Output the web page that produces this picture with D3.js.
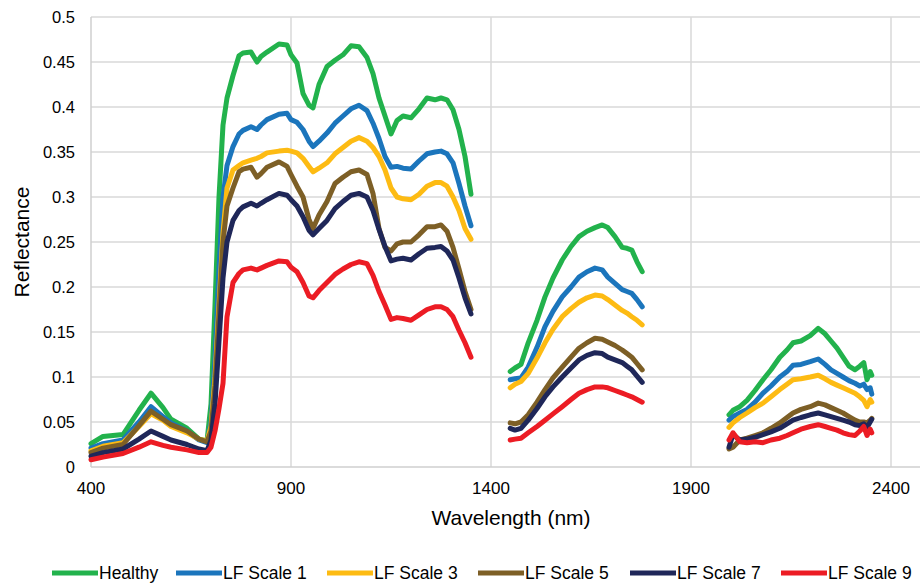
<!DOCTYPE html>
<html>
<head>
<meta charset="utf-8">
<script src="https://cdn.jsdelivr.net/npm/d3@7"></script>
<style>
  body { margin: 0; background: #fff; }
  text { font-family: "Liberation Sans", Arial, sans-serif; fill: #000; }
</style>
</head>
<body>
<div id="container"></div>
<script>
var seriesNames = ['Healthy', 'LF Scale 1', 'LF Scale 3', 'LF Scale 5', 'LF Scale 7', 'LF Scale 9'];
var seriesColors = ['#22b24c', '#1b75bc', '#fdbb13', '#7d5f26', '#1f2759', '#ec1c24'];

var xTicks = [400, 900, 1400, 1900, 2400];
var yTicks = [0, 0.05, 0.1, 0.15, 0.2, 0.25, 0.3, 0.35, 0.4, 0.45, 0.5];
var yTickLabels = ['0', '0.05', '0.1', '0.15', '0.2', '0.25', '0.3', '0.35', '0.4', '0.45', '0.5'];

// segment 1: visible + NIR
var wl1 = [400, 430, 480, 520, 550, 580, 600, 640, 670, 690, 700, 710, 720, 730, 740, 755, 770, 780, 800, 815,
  825, 840, 870, 890, 900, 915, 930, 945, 955, 970, 990, 1010, 1030, 1050, 1070, 1090, 1105, 1120, 1135, 1150,
  1165, 1180, 1200, 1220, 1240, 1260, 1275, 1290, 1305, 1320, 1335, 1350];
var healthy1 = [0.026, 0.034, 0.036, 0.063, 0.082, 0.066, 0.053, 0.043, 0.031, 0.029, 0.07, 0.18, 0.3, 0.38, 0.41, 0.435, 0.457, 0.46, 0.461, 0.45,
  0.456, 0.461, 0.47, 0.469, 0.458, 0.449, 0.415, 0.402, 0.399, 0.425, 0.445, 0.452, 0.458, 0.468, 0.467, 0.455, 0.437, 0.41, 0.39, 0.37,
  0.385, 0.39, 0.388, 0.398, 0.41, 0.408, 0.41, 0.408, 0.397, 0.375, 0.345, 0.303];
var lf1_1 = [0.021, 0.026, 0.03, 0.05, 0.067, 0.056, 0.049, 0.04, 0.03, 0.027, 0.05, 0.12, 0.22, 0.3, 0.335, 0.356, 0.37, 0.374, 0.378, 0.375,
  0.38, 0.386, 0.392, 0.393, 0.386, 0.383, 0.375, 0.362, 0.356, 0.362, 0.371, 0.382, 0.39, 0.398, 0.402, 0.396, 0.382, 0.365, 0.345, 0.333,
  0.334, 0.332, 0.331, 0.34, 0.348, 0.35, 0.351, 0.348, 0.338, 0.315, 0.29, 0.268];
var lf3_1 = [0.018, 0.023, 0.027, 0.045, 0.059, 0.052, 0.045, 0.038, 0.031, 0.029, 0.045, 0.1, 0.18, 0.26, 0.31, 0.33, 0.335, 0.338, 0.341, 0.343,
  0.345, 0.349, 0.351, 0.352, 0.351, 0.349, 0.343, 0.334, 0.328, 0.332, 0.338, 0.348, 0.355, 0.362, 0.366, 0.362, 0.355, 0.345, 0.33, 0.31,
  0.3, 0.298, 0.297, 0.303, 0.312, 0.316, 0.316, 0.312, 0.3, 0.285, 0.265, 0.253];
var lf5_1 = [0.016, 0.021, 0.025, 0.046, 0.062, 0.053, 0.047, 0.04, 0.031, 0.028, 0.04, 0.09, 0.17, 0.25, 0.29, 0.31, 0.328, 0.331, 0.333, 0.322,
  0.326, 0.333, 0.339, 0.334, 0.325, 0.312, 0.3, 0.275, 0.265, 0.28, 0.295, 0.315, 0.322, 0.328, 0.33, 0.325, 0.304, 0.265, 0.244, 0.24,
  0.248, 0.25, 0.25, 0.258, 0.267, 0.267, 0.269, 0.262, 0.244, 0.22, 0.195, 0.175];
var lf7_1 = [0.012, 0.016, 0.02, 0.031, 0.04, 0.034, 0.03, 0.025, 0.02, 0.018, 0.03, 0.07, 0.14, 0.21, 0.25, 0.274, 0.285, 0.289, 0.293, 0.29,
  0.293, 0.297, 0.304, 0.302, 0.297, 0.29, 0.278, 0.263, 0.258, 0.265, 0.274, 0.287, 0.295, 0.302, 0.304, 0.3, 0.285, 0.264, 0.245, 0.229,
  0.231, 0.232, 0.23, 0.237, 0.243, 0.244, 0.245, 0.24, 0.23, 0.21, 0.188, 0.17];
var lf9_1 = [0.008, 0.011, 0.015, 0.022, 0.028, 0.024, 0.022, 0.019, 0.016, 0.016, 0.022, 0.04, 0.065, 0.093, 0.167, 0.205, 0.215, 0.219, 0.221, 0.219,
  0.221, 0.224, 0.229, 0.228, 0.222, 0.217, 0.205, 0.19, 0.188, 0.196, 0.205, 0.214, 0.22, 0.225, 0.228, 0.226, 0.213, 0.195, 0.18, 0.164,
  0.166, 0.165, 0.163, 0.169, 0.175, 0.178, 0.178, 0.175, 0.167, 0.152, 0.138, 0.122];

// segment 2
var wl2 = [1448, 1460, 1475, 1493, 1515, 1535, 1555, 1578, 1600, 1620, 1640, 1660, 1678, 1692, 1710, 1728, 1740, 1752, 1765, 1778];
var healthy2 = [0.106, 0.11, 0.114, 0.138, 0.163, 0.189, 0.21, 0.23, 0.245, 0.256, 0.262, 0.266, 0.269, 0.266, 0.256, 0.244, 0.243, 0.241, 0.228, 0.217];
var lf1_2 = [0.097, 0.098, 0.099, 0.111, 0.133, 0.156, 0.173, 0.189, 0.2, 0.211, 0.217, 0.221, 0.219, 0.211, 0.204, 0.197, 0.195, 0.193, 0.186, 0.178];
var lf3_2 = [0.088, 0.092, 0.095, 0.104, 0.121, 0.138, 0.153, 0.167, 0.176, 0.183, 0.188, 0.191, 0.19, 0.186, 0.18, 0.174, 0.171, 0.167, 0.163, 0.158];
var lf5_2 = [0.049, 0.048, 0.05, 0.058, 0.072, 0.086, 0.099, 0.111, 0.122, 0.132, 0.138, 0.143, 0.142, 0.139, 0.135, 0.13, 0.126, 0.122, 0.115, 0.108];
var lf7_2 = [0.043, 0.041, 0.043, 0.052, 0.065, 0.078, 0.089, 0.1, 0.11, 0.119, 0.124, 0.127, 0.126, 0.122, 0.119, 0.116, 0.112, 0.108, 0.101, 0.094];
var lf9_2 = [0.03, 0.031, 0.032, 0.038, 0.045, 0.052, 0.059, 0.067, 0.075, 0.082, 0.086, 0.089, 0.089, 0.088, 0.085, 0.082, 0.08, 0.078, 0.075, 0.072];

// segment 3
var wl3 = [1995, 2005, 2022, 2040, 2060, 2080, 2100, 2122, 2140, 2155, 2175, 2198, 2218, 2235, 2250, 2265, 2280, 2295, 2310, 2322, 2332, 2340, 2348, 2352];
var healthy3 = [0.058, 0.063, 0.067, 0.074, 0.085, 0.097, 0.108, 0.122, 0.13, 0.138, 0.14, 0.146, 0.154, 0.148, 0.14, 0.132, 0.122, 0.112, 0.108, 0.112, 0.116, 0.097, 0.106, 0.102];
var lf1_3 = [0.052, 0.056, 0.06, 0.064, 0.072, 0.082, 0.09, 0.1, 0.106, 0.113, 0.114, 0.117, 0.12, 0.114, 0.108, 0.104, 0.1, 0.096, 0.093, 0.09, 0.092, 0.086, 0.088, 0.081];
var lf3_3 = [0.044, 0.049, 0.055, 0.06, 0.066, 0.071, 0.078, 0.086, 0.092, 0.097, 0.098, 0.1, 0.102, 0.098, 0.094, 0.091, 0.088, 0.085, 0.082, 0.078, 0.074, 0.067, 0.075, 0.072];
var lf5_3 = [0.02, 0.022, 0.03, 0.032, 0.035, 0.038, 0.043, 0.049, 0.055, 0.06, 0.064, 0.067, 0.071, 0.069, 0.066, 0.063, 0.06, 0.056, 0.052, 0.05, 0.05, 0.049, 0.052, 0.054];
var lf7_3 = [0.022, 0.036, 0.03, 0.031, 0.033, 0.036, 0.039, 0.043, 0.048, 0.052, 0.055, 0.058, 0.06, 0.058, 0.056, 0.054, 0.052, 0.05, 0.047, 0.046, 0.048, 0.044, 0.05, 0.053];
var lf9_3 = [0.03, 0.038, 0.028, 0.027, 0.028, 0.027, 0.03, 0.032, 0.035, 0.038, 0.042, 0.045, 0.047, 0.045, 0.043, 0.041, 0.038, 0.036, 0.035, 0.04, 0.045, 0.035, 0.042, 0.038];

var seriesSegments = [
  [healthy1, healthy2, healthy3],
  [lf1_1, lf1_2, lf1_3],
  [lf3_1, lf3_2, lf3_3],
  [lf5_1, lf5_2, lf5_3],
  [lf7_1, lf7_2, lf7_3],
  [lf9_1, lf9_2, lf9_3]
];
var segmentWl = [wl1, wl2, wl3];

var width = 920;
var height = 584;
var margin = {left: 91, top: 17, right: -11, bottom: 117};

var svg = d3.select('#container')
  .append('svg')
  .attr('width', width)
  .attr('height', height);

var x = d3.scaleLinear().domain([400, 2500]).range([margin.left, width - margin.right]);
var y = d3.scaleLinear().domain([0, 0.5]).range([height - margin.bottom, margin.top]);

// gridlines
svg.append('g')
  .selectAll('line')
  .data(yTicks.slice(1))
  .enter()
  .append('line')
  .attr('x1', x(400))
  .attr('x2', width)
  .attr('y1', (d) => y(d))
  .attr('y2', (d) => y(d))
  .attr('stroke', '#d9d9d9')
  .attr('stroke-width', 1.5);

svg.append('g')
  .selectAll('line')
  .data(xTicks.slice(1))
  .enter()
  .append('line')
  .attr('x1', (d) => x(d))
  .attr('x2', (d) => x(d))
  .attr('y1', y(0.5))
  .attr('y2', y(0))
  .attr('stroke', '#d9d9d9')
  .attr('stroke-width', 1.5);

// axis lines
svg.append('line')
  .attr('x1', x(400)).attr('x2', width)
  .attr('y1', y(0)).attr('y2', y(0))
  .attr('stroke', '#cfcfcf').attr('stroke-width', 1.5);
svg.append('line')
  .attr('x1', x(400)).attr('x2', x(400))
  .attr('y1', y(0.5)).attr('y2', y(0))
  .attr('stroke', '#cfcfcf').attr('stroke-width', 1.5);

// tick labels
svg.append('g')
  .selectAll('text')
  .data(yTicks)
  .enter()
  .append('text')
  .attr('x', 75)
  .attr('y', (d) => y(d))
  .attr('dy', '0.35em')
  .attr('text-anchor', 'end')
  .attr('font-size', 16.5)
  .text((d, i) => yTickLabels[i]);

svg.append('g')
  .selectAll('text')
  .data(xTicks)
  .enter()
  .append('text')
  .attr('x', (d) => x(d))
  .attr('y', 494)
  .attr('text-anchor', 'middle')
  .attr('font-size', 17)
  .text((d) => d);

svg.append('text')
  .attr('x', 511)
  .attr('y', 525)
  .attr('text-anchor', 'middle')
  .attr('font-size', 21)
  .text('Wavelength (nm)');

svg.append('text')
  .attr('transform', 'translate(29,242) rotate(-90)')
  .attr('text-anchor', 'middle')
  .attr('font-size', 21)
  .text('Reflectance');

// series
var line = d3.line()
  .x((d) => x(d[0]))
  .y((d) => y(d[1]))
  .curve(d3.curveLinear);

seriesSegments.forEach((segs, si) => {
  var g = svg.append('g');
  segs.forEach((vals, k) => {
    var pts = segmentWl[k].map((w, i) => [w, vals[i]]);
    g.append('path')
      .attr('d', line(pts))
      .attr('fill', 'none')
      .attr('stroke', seriesColors[si])
      .attr('stroke-width', 5)
      .attr('stroke-linejoin', 'round')
      .attr('stroke-linecap', 'round');
  });
});

// legend
var legendX = [52, 176, 327, 478, 630, 781];
var legend = svg.append('g')
  .selectAll('g')
  .data(seriesNames)
  .enter()
  .append('g')
  .attr('transform', (d, i) => 'translate(' + legendX[i] + ',573)');
legend.append('line')
  .attr('x1', 0).attr('x2', 46)
  .attr('y1', 0).attr('y2', 0)
  .attr('stroke', (d, i) => seriesColors[i])
  .attr('stroke-width', 5);
legend.append('text')
  .attr('x', 47)
  .attr('y', 0)
  .attr('dy', '0.35em')
  .attr('font-size', 17.5)
  .text((d) => d);
</script>
</body>
</html>
